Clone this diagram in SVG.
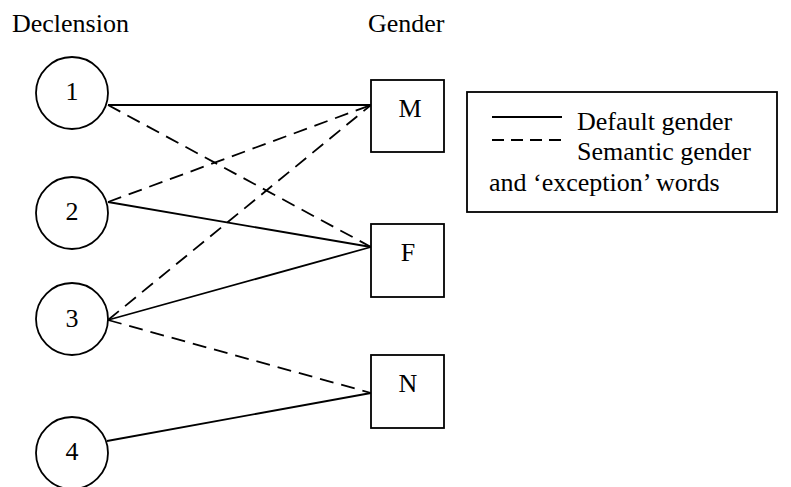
<svg xmlns="http://www.w3.org/2000/svg" width="791" height="487" viewBox="0 0 791 487">
<style>
text{font-family:"Liberation Serif","Times New Roman",serif;font-size:26px;fill:#000}
.c{text-anchor:middle}
.n{fill:#fff;stroke:#000;stroke-width:1.8}
.s{stroke:#000;stroke-width:1.8;fill:none}
.d{stroke:#000;stroke-width:1.8;fill:none;stroke-dasharray:14 8}
.ld{stroke:#000;stroke-width:1.8;fill:none;stroke-dasharray:12 7}
</style>
<rect width="791" height="487" fill="#fff"/>
<text x="12" y="32">Declension</text>
<text x="368" y="32">Gender</text>
<g id="edges">
<line class="s" x1="108" y1="105" x2="371" y2="105"/>
<line class="d" x1="108" y1="105" x2="371" y2="247"/>
<line class="d" x1="108" y1="202" x2="371" y2="105"/>
<line class="s" x1="108" y1="202" x2="371" y2="247"/>
<line class="d" x1="108" y1="320" x2="371" y2="105"/>
<line class="s" x1="371" y1="247" x2="108" y2="320"/>
<line class="d" x1="108" y1="320" x2="371" y2="393"/>
<line class="s" x1="107" y1="441" x2="371" y2="393"/>
</g>
<g id="d1"><circle class="n" cx="72" cy="93" r="36"/><text class="c" x="72" y="100">1</text></g>
<g id="d2"><circle class="n" cx="72" cy="213" r="36"/><text class="c" x="72" y="220">2</text></g>
<g id="d3"><circle class="n" cx="72" cy="319" r="36"/><text class="c" x="72" y="327">3</text></g>
<g id="d4"><circle class="n" cx="72" cy="453" r="36"/><text class="c" x="72" y="460">4</text></g>
<g id="gM"><rect class="n" x="371" y="80" width="73" height="72"/><text class="c" x="410" y="117">M</text></g>
<g id="gF"><rect class="n" x="371" y="224" width="73" height="73"/><text class="c" x="408" y="261">F</text></g>
<g id="gN"><rect class="n" x="371" y="355" width="73" height="73"/><text class="c" x="408" y="392">N</text></g>
<g id="legend">
<rect class="n" x="467" y="92" width="310" height="120"/>
<line class="s" x1="492" y1="117" x2="562" y2="117"/>
<line class="ld" x1="492" y1="140" x2="562" y2="140"/>
<text x="577" y="130">Default gender</text>
<text x="577" y="160">Semantic gender</text>
<text x="489" y="191">and ‘exception’ words</text>
</g>
</svg>
